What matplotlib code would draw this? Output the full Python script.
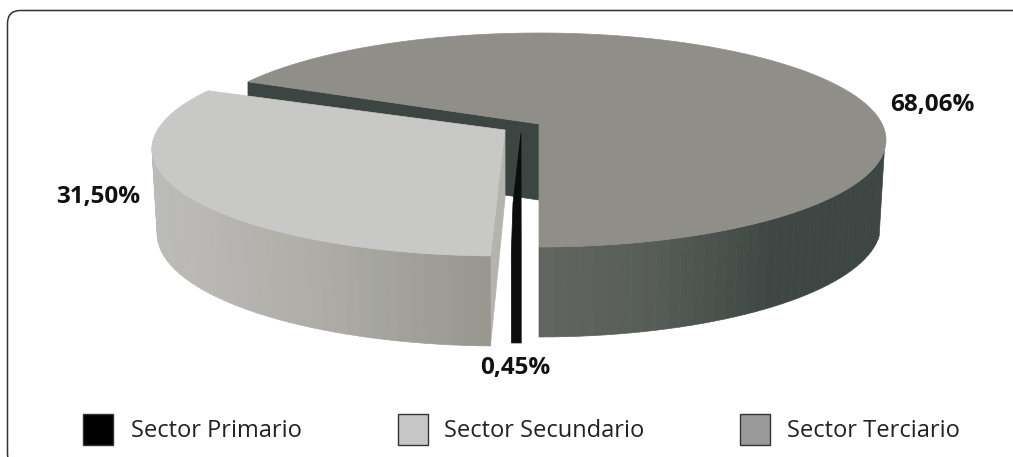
import matplotlib
matplotlib.use('Agg')
import matplotlib.pyplot as plt
import numpy as np
from matplotlib.colors import to_rgb
from matplotlib.patches import FancyBboxPatch, Polygon, Rectangle

plt.rcParams['font.family'] = ['Open Sans', 'DejaVu Sans']

# Data
sectors = ['Sector Primario', 'Sector Secundario', 'Sector Terciario']
shares = [0.45, 31.50, 68.06]
legend_colors = ['#000000', '#c6c6c6', '#9a9a9a']


def warp(t):
    # the back of the pie is squeezed by the perspective
    return t - 8 * (1 + np.sin(np.radians(t))) / 1.42


def rim(t, cx, cy, rx=350, ry=107):
    r = np.radians(warp(t))
    return cx + rx * np.cos(r), cy - ry * np.sin(r)


def depth(t):
    return 85 - 5 * np.sin(np.radians(warp(t)))


def lower(t, cx, cy, rx):
    # bottom rim is a bit narrower than the top one
    x, y = rim(t, cx, cy, rx)
    return cx + (x - cx) * 0.985, y + depth(t)


def outer_wall(ax, t0, t1, cx, cy, rx, stops, shades, n=40):
    rgb = np.array([to_rgb(s) for s in shades])
    edges = np.linspace(t0, t1, n + 1)
    for a, b in zip(edges[:-1], edges[1:]):
        mid = (a + b) / 2
        c = [np.interp(mid, stops, rgb[:, i]) for i in range(3)]
        ax.add_patch(Polygon([rim(a, cx, cy, rx), rim(b, cx, cy, rx),
                              lower(b, cx, cy, rx), lower(a, cx, cy, rx)],
                             fc=c, ec=c, lw=0.5))


fig = plt.figure(figsize=(10.13, 4.57), dpi=100)
ax = fig.add_axes([0, 0, 1, 1])
ax.set_xlim(0, 1013)
ax.set_ylim(457, 0)
ax.axis('off')

ax.add_patch(FancyBboxPatch((7.5, 10.5), 1040, 456, boxstyle='round,pad=0,rounding_size=13',
                            fc='white', ec='#333333', lw=1.1))

# Angles run counter clockwise from the front of the pie
start = 270
ter_end = start + shares[2] * 3.6
sec_end = ter_end + shares[1] * 3.6
pri_end = sec_end + shares[0] * 3.6
arc = lambda a, b, cx, cy, rx: [rim(t, cx, cy, rx) for t in np.linspace(a, b, 200)]

# Sector Terciario
apex = (539, 124)
cx, cy, rx = 539, 140, 347
end_pt = rim(ter_end, cx, cy, rx)
ax.add_patch(Polygon([end_pt, apex, (apex[0], apex[1] + 76), (end_pt[0], end_pt[1] + 76)],
                     fc='#3c4542', ec='#3c4542', lw=0.5))
outer_wall(ax, start, start + 90, cx, cy, rx, [270, 290, 314, 360],
           ['#626660', '#565c57', '#3e4744', '#3c4542'])
ax.add_patch(Polygon([apex] + arc(start, ter_end, cx, cy, rx), fc='#8f8e88', ec='#8f8e88', lw=0.5))

# Sector Primario
apex = (521, 133)
cx, cy, rx = 521, 146, 350
a_x, a_y = rim(sec_end, cx, cy, rx)
b_x, b_y = rim(pri_end, cx, cy, rx)
ax.add_patch(Polygon([apex, (apex[0] - 8, apex[1] + 70), (a_x, a_y), lower(sec_end, cx, cy, rx),
                      lower(pri_end, cx, cy, rx), (b_x, b_y)],
                     fc='#0a0d0c', ec='#0a0d0c', lw=0.5))

# Sector Secundario
apex = (505, 130)
cx, cy, rx = 500, 149, 348
end_pt = rim(sec_end, cx, cy, rx)
ax.add_patch(Polygon([apex, end_pt, lower(sec_end, cx, cy, rx), (apex[0], apex[1] + 68)],
                     fc='#b4b4ae', ec='#b4b4ae', lw=0.5))
outer_wall(ax, ter_end + 25, sec_end, cx, cy, rx, [540, 575, 600, 628],
           ['#bcbcb9', '#b9b8b4', '#adaca7', '#97978f'])
ax.add_patch(Polygon([apex] + arc(ter_end, sec_end, cx, cy, rx), fc='#c8c8c6', ec='#c8c8c6', lw=0.5))

# Value labels
fmt = lambda v: f'{v:.2f}%'.replace('.', ',')
for value, (x, y) in zip(shares, [(515, 368), (98, 197), (932, 105)]):
    ax.text(x, y, fmt(value), ha='center', va='center', fontsize=17.5, fontweight='bold', color='#111111')

# Legend
for name, color, bx, tx in zip(sectors, legend_colors, [83, 398, 740], [131, 444, 787]):
    ax.add_patch(Rectangle((bx, 414), 30, 31, fc=color, ec='#333333', lw=1))
    ax.text(tx, 431, name, ha='left', va='center', fontsize=17, color='#222222')

fig.savefig('out.png', dpi=100)
